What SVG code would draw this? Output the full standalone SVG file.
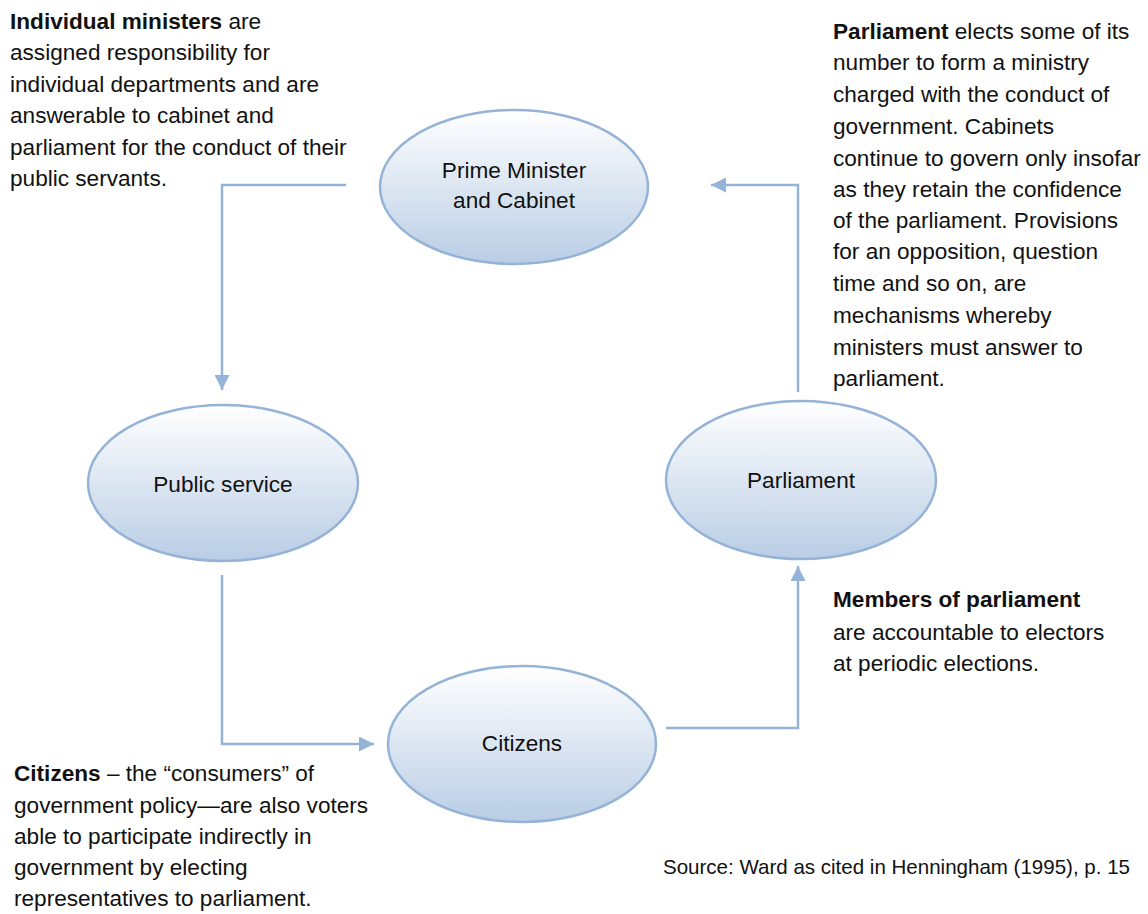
<svg xmlns="http://www.w3.org/2000/svg" width="1148" height="914" viewBox="0 0 1148 914">
<style>
text{font-family:"Liberation Sans",Arial,sans-serif;font-size:22.6px;fill:#111}
.b{font-weight:bold}
.node ellipse{fill:url(#g);stroke:#95b3d7;stroke-width:2.5}
.node text{text-anchor:middle}
.conn{fill:none;stroke:#95b3d7;stroke-width:2.5}
.src{font-size:20.6px}
</style>
<defs>
<linearGradient id="g" x1="0" y1="0" x2="0" y2="1">
<stop offset="0" stop-color="#ffffff"/>
<stop offset="1" stop-color="#b9cde5"/>
</linearGradient>
<marker id="ah" viewBox="0 0 10 10" refX="10" refY="5" markerWidth="6" markerHeight="6" orient="auto" markerUnits="strokeWidth">
<path d="M0,0 L10,5 L0,10 z" fill="#95b3d7"/>
</marker>
</defs>
<rect width="1148" height="914" fill="#fff"/>
<g id="connectors">
<path class="conn" d="M346,185 H222 V390" marker-end="url(#ah)"/>
<path class="conn" d="M222,575 V744 H374" marker-end="url(#ah)"/>
<path class="conn" d="M666,728 H798 V566" marker-end="url(#ah)"/>
<path class="conn" d="M798,392 V185 H711" marker-end="url(#ah)"/>
</g>
<g id="pm" class="node">
<ellipse cx="514" cy="187" rx="134" ry="77"/>
<text x="514" y="178">Prime Minister</text>
<text x="514" y="208">and Cabinet</text>
</g>
<g id="ps" class="node">
<ellipse cx="223" cy="483" rx="135" ry="78"/>
<text x="223" y="492">Public service</text>
</g>
<g id="parl" class="node">
<ellipse cx="801" cy="480" rx="135" ry="79"/>
<text x="801" y="488">Parliament</text>
</g>
<g id="cit" class="node">
<ellipse cx="522" cy="744" rx="134" ry="78"/>
<text x="522" y="751">Citizens</text>
</g>
<g id="note-ministers">
<text x="10" y="29"><tspan class="b">Individual ministers</tspan> are</text>
<text x="10" y="60">assigned responsibility for</text>
<text x="10" y="92">individual departments and are</text>
<text x="10" y="123">answerable to cabinet and</text>
<text x="10" y="155">parliament for the conduct of their</text>
<text x="10" y="186">public servants.</text>
</g>
<g id="note-parliament">
<text x="833" y="39"><tspan class="b">Parliament</tspan> elects some of its</text>
<text x="833" y="70">number to form a ministry</text>
<text x="833" y="102">charged with the conduct of</text>
<text x="833" y="134">government. Cabinets</text>
<text x="833" y="166">continue to govern only insofar</text>
<text x="833" y="197">as they retain the confidence</text>
<text x="833" y="228">of the parliament. Provisions</text>
<text x="833" y="259">for an opposition, question</text>
<text x="833" y="291">time and so on, are</text>
<text x="833" y="323">mechanisms whereby</text>
<text x="833" y="355">ministers must answer to</text>
<text x="833" y="386">parliament.</text>
</g>
<g id="note-members">
<text x="833" y="607" class="b">Members of parliament</text>
<text x="833" y="640">are accountable to electors</text>
<text x="833" y="671">at periodic elections.</text>
</g>
<g id="note-citizens">
<text x="14" y="781"><tspan class="b">Citizens</tspan> – the “consumers” of</text>
<text x="14" y="813">government policy—are also voters</text>
<text x="14" y="844">able to participate indirectly in</text>
<text x="14" y="875">government by electing</text>
<text x="14" y="906">representatives to parliament.</text>
</g>
<g id="source">
<text class="src" x="663" y="874" textLength="467" lengthAdjust="spacingAndGlyphs">Source: Ward as cited in Henningham (1995), p. 15</text>
</g>
</svg>
